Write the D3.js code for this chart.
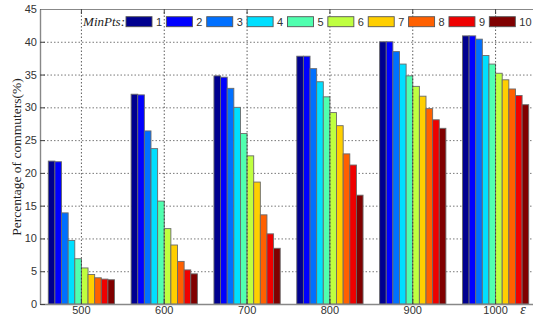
<!DOCTYPE html>
<html>
<head>
<meta charset="utf-8">
<script src="https://d3js.org/d3.v7.min.js"></script>
<style>
  body { margin: 0; background: #fff; }
  svg { display: block; }
  .tick text { font-family: "Liberation Sans", Arial, sans-serif; font-size: 11px; fill: #333; }
</style>
</head>
<body>
<script>
// Bar chart - percentage of commuters per eps / MinPts

// categories (eps) and series (MinPts)
var eps_labels = ["500", "600", "700", "800", "900", "1000"];
var minpts = ["1", "2", "3", "4", "5", "6", "7", "8", "9", "10"];

// values per eps group, one value per MinPts
var v500  = [21.8, 21.7, 13.9,  9.7,  6.9,  5.5,  4.5,  4.0,  3.8,  3.7];
var v600  = [32.0, 31.9, 26.4, 23.7, 15.7, 11.5,  9.0,  6.5,  5.2,  4.6];
var v700  = [34.8, 34.6, 32.9, 30.0, 26.0, 22.6, 18.6, 13.6, 10.7,  8.5];
var v800  = [37.8, 37.8, 35.9, 33.9, 31.6, 29.2, 27.2, 22.9, 21.2, 16.6];
var v900  = [40.0, 40.0, 38.5, 36.6, 34.8, 33.2, 31.7, 29.8, 28.1, 26.8];
var v1000 = [40.9, 40.9, 40.4, 37.9, 36.6, 35.2, 34.2, 32.8, 31.8, 30.4];

var y_ticks = [0, 5, 10, 15, 20, 25, 30, 35, 40, 45];

// jet colormap, 10 steps
var colors = ["#00008f", "#0000ff", "#0070ff", "#00dfff", "#50ffaf",
              "#bfff40", "#ffcf00", "#ff6000", "#ef0000", "#800000"];

// svg size
var w_svg = 533;
var h_svg = 316;

// plot box (right side falls just outside the picture)
var left = 40, right = 537, top_ = 9, bottom = 304;

// build a table from the arrays
var groups = [v500, v600, v700, v800, v900, v1000];
var dataset = [];
for (var g = 0; g < eps_labels.length; g++) {
  for (var k = 0; k < minpts.length; k++) {
    dataset.push({eps: eps_labels[g], mp: minpts[k], value: groups[g][k], ci: k});
  }
}

var svg = d3.select("body")
  .append("svg")
  .attr("width", w_svg)
  .attr("height", h_svg);

// scales
var xScale = d3.scaleBand().domain(eps_labels).range([left, right]).padding(0);
var groupW = xScale.bandwidth() * 0.8;
var xInner = d3.scaleBand().domain(minpts).range([0, groupW]).padding(0);
var yScale = d3.scaleLinear().domain([0, 45]).range([bottom, top_]);

// horizontal grid (under the bars)
svg.append("g")
  .attr("transform", "translate(" + left + ",0)")
  .call(d3.axisLeft(yScale).tickValues(y_ticks.slice(1, -1)).tickSize(-(right - left)).tickFormat(""))
  .call(function(g) { g.select(".domain").remove(); })
  .selectAll("line")
  .attr("stroke", "#555")
  .attr("stroke-width", 0.8)
  .attr("stroke-dasharray", "1.5,2");

// bars
svg.append("g").selectAll("rect")
  .data(dataset)
  .enter()
  .append("rect")
  .attr("x", function(d) { return xScale(d.eps) + (xScale.bandwidth() - groupW) / 2 + xInner(d.mp); })
  .attr("y", function(d) { return yScale(d.value); })
  .attr("width", xInner.bandwidth())
  .attr("height", function(d) { return yScale(0) - yScale(d.value); })
  .attr("fill", function(d) { return colors[d.ci]; })
  .attr("stroke", "#6a6a6a")
  .attr("stroke-width", 0.9);

// vertical grid (on top of the bars)
svg.append("g")
  .attr("transform", "translate(0," + bottom + ")")
  .call(d3.axisBottom(xScale).tickSize(-(bottom - top_)).tickFormat(""))
  .call(function(g) { g.select(".domain").remove(); })
  .selectAll("line")
  .attr("stroke", "#333")
  .attr("stroke-width", 0.8)
  .attr("stroke-dasharray", "1.5,2");

// x-axis
var x_axis = d3.axisBottom(xScale).tickSizeInner(-5).tickSizeOuter(0).tickPadding(2.6);
svg.append("g")
  .attr("class", "x axis")
  .attr("transform", "translate(0," + bottom + ")")
  .call(x_axis)
  .call(function(g) {
    g.select(".domain").attr("stroke", "#888").attr("stroke-width", 1.6);
    g.selectAll(".tick line").attr("stroke", "#444");
  });

// y-axis
var y_axis = d3.axisLeft(yScale).tickValues(y_ticks).tickSizeInner(-5).tickSizeOuter(0).tickPadding(3);
svg.append("g")
  .attr("class", "y axis")
  .attr("transform", "translate(" + left + ",0)")
  .call(y_axis)
  .call(function(g) {
    g.select(".domain").attr("stroke", "#888").attr("stroke-width", 1.4);
    g.selectAll(".tick line").attr("stroke", "#444");
  });

// top border with mirrored ticks
svg.append("g")
  .attr("transform", "translate(0," + top_ + ")")
  .call(d3.axisTop(xScale).tickSizeInner(-5).tickSizeOuter(0).tickFormat(""))
  .call(function(g) {
    g.select(".domain").attr("stroke", "#888").attr("stroke-width", 1.2);
    g.selectAll(".tick line").attr("stroke", "#444");
  });

// y-label
svg.append("text")
  .attr("transform", "translate(21,157) rotate(-90)")
  .attr("text-anchor", "middle")
  .style("font-family", "'Liberation Serif', 'Times New Roman', serif")
  .style("font-size", "13.5px")
  .style("fill", "#222")
  .text("Percentage of  commuters(%)");

// epsilon label
svg.append("text")
  .attr("x", 523)
  .attr("y", 314)
  .attr("text-anchor", "middle")
  .style("font-family", "'Liberation Serif', 'Times New Roman', serif")
  .style("font-style", "italic")
  .style("font-size", "14px")
  .style("fill", "#222")
  .text("\u03b5");

// legend
var leg_x0 = 126, leg_step = 40.37, leg_y = 16.7, sw_w = 26, sw_h = 10;

svg.append("text")
  .attr("x", leg_x0 - 1)
  .attr("y", leg_y + 9)
  .attr("text-anchor", "end")
  .style("font-family", "'Liberation Serif', 'Times New Roman', serif")
  .style("font-style", "italic")
  .style("font-size", "13px")
  .style("fill", "#222")
  .text("MinPts:");

var leg = svg.append("g").selectAll("g")
  .data(minpts)
  .enter()
  .append("g")
  .attr("transform", function(d, i) { return "translate(" + (leg_x0 + i * leg_step) + "," + leg_y + ")"; });

leg.append("rect")
  .attr("width", sw_w)
  .attr("height", sw_h)
  .attr("fill", function(d, i) { return colors[i]; })
  .attr("stroke", "#555")
  .attr("stroke-width", 0.9);

leg.append("text")
  .attr("x", sw_w + 4)
  .attr("y", 9)
  .style("font-family", "'Liberation Sans', Arial, sans-serif")
  .style("font-size", "11px")
  .style("fill", "#333")
  .text(function(d) { return d; });
</script>
</body>
</html>
